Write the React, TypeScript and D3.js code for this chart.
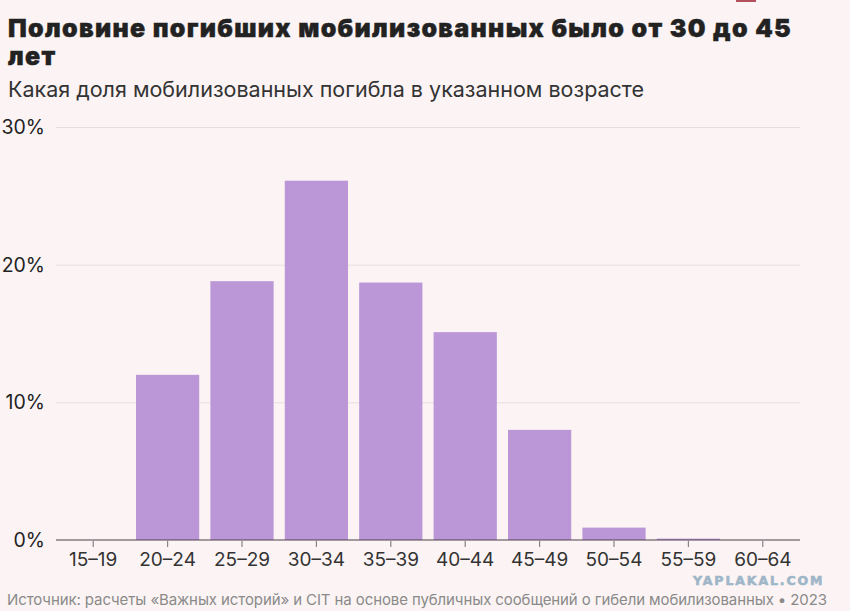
import React, { useRef, useEffect } from "react";
import * as d3 from "d3";

const ageGroups = ["15–19", "20–24", "25–29", "30–34", "35–39", "40–44", "45–49", "50–54", "55–59", "60–64"];
const shares = [0, 12.0, 18.8, 26.1, 18.7, 15.1, 8.0, 0.9, 0.1, 0];
const yTicks = [0, 10, 20, 30];

const title1 = "Половине погибших мобилизованных было от 30 до 45";
const title2 = "лет";
const subtitle = "Какая доля мобилизованных погибла в указанном возрасте";
const source = "Источник: расчеты «Важных историй» и CIT на основе публичных сообщений о гибели мобилизованных • 2023";

const W = 856;
const H = 611;

const App = () => {
    const ref = useRef<SVGSVGElement | null>(null);

    useEffect(() => {
        const svg = d3.select(ref.current);
        svg.selectAll("*").remove();

        const font = "Inter, 'Noto Sans', sans-serif";

        // page background + white strip at right edge
        svg.append("rect").attr("width", W).attr("height", H).attr("fill", "#fff");
        svg.append("rect").attr("width", 850).attr("height", H).attr("fill", "#fcf4f4");
        svg.append("rect").attr("x", 736).attr("y", 0).attr("width", 20).attr("height", 2).attr("fill", "#b4505e");

        const x = d3.scaleBand<string>()
            .domain(ageGroups)
            .range([56, 800])
            .paddingInner(0.15)
            .paddingOuter(0.075);

        const y = d3.scaleLinear().domain([0, 30]).range([540, 127]);

        // titles
        svg.append("text")
            .attr("x", 8).attr("y", 37)
            .attr("font-family", font).attr("font-weight", 900).attr("font-size", 25)
            .attr("letter-spacing", 1.3)
            .attr("stroke", "#222").attr("stroke-width", 0.4)
            .attr("fill", "#222")
            .text(title1);
        svg.append("text")
            .attr("x", 8).attr("y", 65)
            .attr("font-family", font).attr("font-weight", 900).attr("font-size", 25)
            .attr("letter-spacing", 1.3)
            .attr("stroke", "#222").attr("stroke-width", 0.4)
            .attr("fill", "#222")
            .text(title2);
        svg.append("text")
            .attr("x", 8).attr("y", 97)
            .attr("font-family", font).attr("font-size", 21.5)
            .attr("fill", "#333")
            .text(subtitle);

        // gridlines + y labels
        const grid = svg.append("g");
        grid.selectAll("line")
            .data(yTicks.filter((t) => t > 0))
            .enter()
            .append("line")
            .attr("x1", 56).attr("x2", 800)
            .attr("y1", (d) => y(d) + 0.5).attr("y2", (d) => y(d) + 0.5)
            .attr("stroke", "#e6dfe0");
        grid.selectAll("text")
            .data(yTicks)
            .enter()
            .append("text")
            .attr("x", 45)
            .attr("y", (d) => y(d))
            .attr("dy", "0.36em")
            .attr("text-anchor", "end")
            .attr("font-family", font).attr("font-size", 19.5)
            .attr("fill", "#222")
            .text((d) => `${d}%`);

        // bars
        svg.append("g")
            .selectAll("rect")
            .data(shares)
            .enter()
            .append("rect")
            .attr("x", (_, i) => x(ageGroups[i])!)
            .attr("width", x.bandwidth())
            .attr("y", (d) => y(d))
            .attr("height", (d) => y(0) - y(d))
            .attr("fill", "#bc97d7");

        // x axis
        const axis = svg.append("g").attr("transform", `translate(0,${y(0)})`);
        axis.append("line")
            .attr("x1", 56).attr("x2", 800)
            .attr("stroke", "#4a3f4a").attr("stroke-width", 1.2);
        const ticks = axis.selectAll("g.tick")
            .data(ageGroups)
            .enter()
            .append("g")
            .attr("class", "tick")
            .attr("transform", (d) => `translate(${x(d)! + x.bandwidth() / 2},0)`);
        ticks.append("line").attr("y1", 1).attr("y2", 7).attr("stroke", "#8a8088").attr("stroke-width", 1.2);
        ticks.append("text")
            .attr("y", 26)
            .attr("text-anchor", "middle")
            .attr("font-family", font).attr("font-size", 19)
            .attr("fill", "#333")
            .text((d) => d);

        // watermark
        svg.append("text")
            .attr("x", 693).attr("y", 585)
            .attr("font-family", "'DejaVu Sans', sans-serif").attr("font-weight", 700).attr("font-size", 12.5)
            .attr("letter-spacing", 1.9)
            .attr("stroke", "#9fb6c9").attr("stroke-width", 0.6)
            .attr("fill", "#9fb6c9")
            .text("YAPLAKAL.COM");

        // source
        svg.append("text")
            .attr("x", 7).attr("y", 605)
            .attr("font-family", font).attr("font-size", 15)
            .attr("letter-spacing", -0.1)
            .attr("fill", "#8a8a8a")
            .text(source);
    }, []);

    return (
        <svg
            ref={ref}
            width={W}
            height={H}
            viewBox={`0 0 ${W} ${H}`}
            style={{ position: "absolute", left: 0, top: 0, display: "block" }}
        />
    );
};

export default App;
